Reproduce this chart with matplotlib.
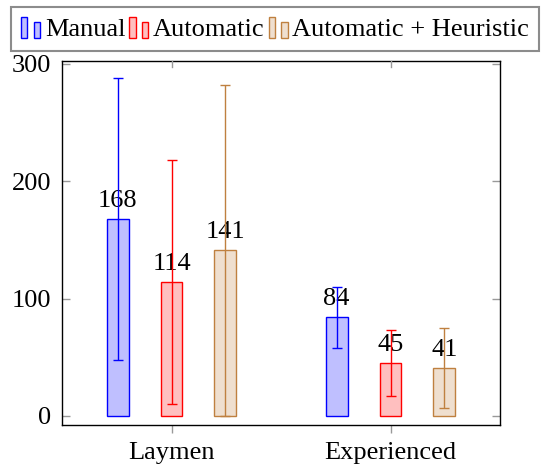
import matplotlib
matplotlib.use("Agg")
import matplotlib.pyplot as plt
import numpy as np
from matplotlib.patches import Rectangle
from matplotlib.legend_handler import HandlerBase

# Data
groups = ["Laymen", "Experienced"]
series = ["Manual", "Automatic", "Automatic + Heuristic"]
values = {
    "Manual": [168, 84],
    "Automatic": [114, 45],
    "Automatic + Heuristic": [141, 41],
}
errors = {
    "Manual": [120, 26],
    "Automatic": [104, 28],
    "Automatic + Heuristic": [141, 34],
}
edge_colors = ["#0000ff", "#ff0000", "#bf8040"]
fill_colors = ["#bfbfff", "#ffbfbf", "#efdfcf"]
y_ticks = [0, 100, 200, 300]

plt.rcParams["font.family"] = ["Liberation Serif", "DejaVu Serif"]
FS = 19

fig = plt.figure(figsize=(5.44, 4.70), dpi=100)
ax = fig.add_axes([62 / 544, 1 - 425 / 470, 438 / 544, 364 / 470])

x = np.arange(len(groups))
bar_w = 0.10
offset = 0.246
handles = []
for i, name in enumerate(series):
    xs = x + (i - 1) * offset
    vals = values[name]
    bars = ax.bar(xs, vals, width=bar_w, color=fill_colors[i],
                  edgecolor=edge_colors[i], linewidth=1.0, zorder=2)
    handles.append(bars[0])
    for xi, v in zip(xs, vals):
        ax.annotate(str(v), (xi, v), xytext=(0, 5), textcoords="offset points",
                    ha="center", va="bottom", fontsize=FS, zorder=3)
    eb = ax.errorbar(xs, vals, yerr=errors[name], fmt="none",
                     ecolor=edge_colors[i], elinewidth=1.0, capsize=3.3,
                     capthick=1.0, zorder=4)
    for cap in eb[1]:
        cap.set_color("#333333")

ax.set_xlim(-0.5, 1.5)
ax.set_ylim(-7.7, 302.3)
ax.set_xticks(x)
ax.set_xticklabels(groups, fontsize=FS)
ax.set_yticks(y_ticks)
ax.set_yticklabels([str(t) for t in y_ticks], fontsize=FS)
ax.tick_params(axis="y", direction="in", left=True, right=True, length=6,
               width=1.0, color="#999999", pad=8)
ax.tick_params(axis="x", direction="out", bottom=True, top=False, length=6,
               width=1.0, color="#999999", pad=6)
for xt in x:
    ax.plot([xt, xt], [1, 1 - 6 / 364], transform=ax.get_xaxis_transform(),
            color="#999999", lw=1.0, clip_on=False, zorder=5)
for sp in ax.spines.values():
    sp.set_linewidth(1.0)
    sp.set_color("black")


class TwoBarHandler(HandlerBase):
    def create_artists(self, legend, orig_handle, xdescent, ydescent,
                       width, height, fontsize, trans):
        fc = orig_handle.get_facecolor()
        ec = orig_handle.get_edgecolor()
        bw = width * 0.34
        x0 = -xdescent
        y0 = -ydescent - 0.15 * height
        r1 = Rectangle((x0, y0), bw, height * 1.15, facecolor=fc,
                       edgecolor=ec, linewidth=1.0, transform=trans)
        r2 = Rectangle((x0 + width - bw, y0), bw, height * 0.87, facecolor=fc,
                       edgecolor=ec, linewidth=1.0, transform=trans)
        return [r1, r2]


leg = fig.legend(handles, series, loc="upper left",
                 bbox_to_anchor=(11 / 544, 1 - 7 / 470), ncol=3,
                 fontsize=FS, frameon=True, fancybox=False,
                 handler_map={h: TwoBarHandler() for h in handles},
                 handlelength=0.72, handleheight=0.7, handletextpad=0.18,
                 columnspacing=0.15, borderpad=0.38, borderaxespad=0)
leg.get_frame().set_edgecolor("#707070")
leg.get_frame().set_linewidth(1.5)

fig.savefig("out.png", dpi=100)
